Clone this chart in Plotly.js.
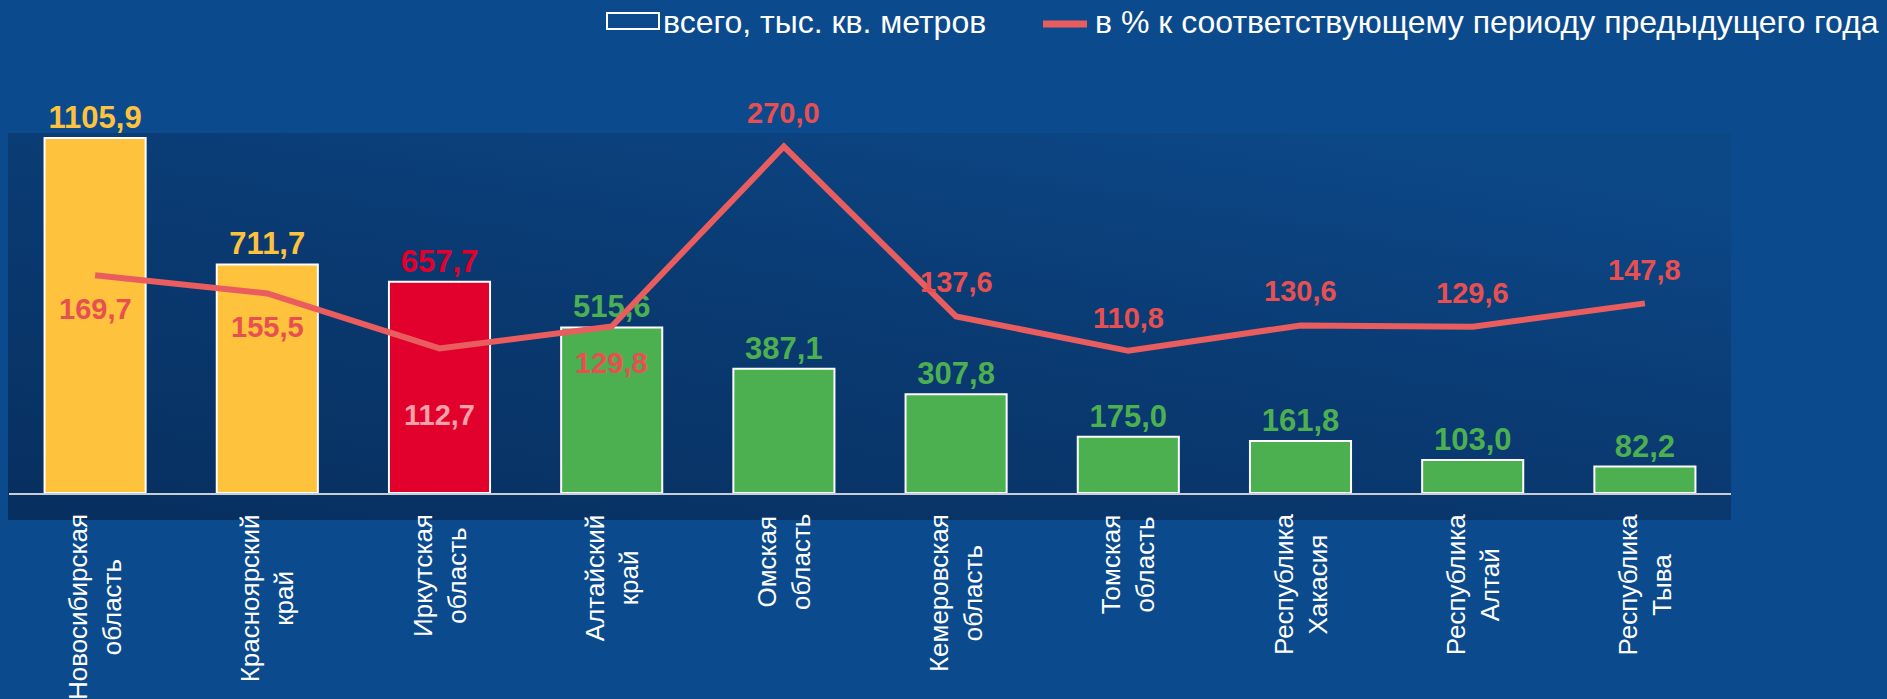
<!DOCTYPE html>
<html>
<head>
<meta charset="utf-8">
<script src="https://cdn.plot.ly/plotly-3.0.1.min.js"></script>
<style>
  html, body { margin: 0; padding: 0; background: #0c4a8e; }
  #chart { width: 1887px; height: 699px; }
</style>
</head>
<body>
<div id="chart"></div>
<script>
// regions (two words each, split onto two lines under the bars)
var regions = ['Новосибирская область', 'Красноярский край', 'Иркутская область', 'Алтайский край',
  'Омская область', 'Кемеровская область', 'Томская область', 'Республика Хакасия',
  'Республика Алтай', 'Республика Тыва'];

// всего, тыс. кв. метров
var totalArea = [1105.9, 711.7, 657.7, 515.6, 387.1, 307.8, 175.0, 161.8, 103.0, 82.2];

// в % к соответствующему периоду предыдущего года
var pctPrev = [169.7, 155.5, 112.7, 129.8, 270.0, 137.6, 110.8, 130.6, 129.6, 147.8];

var legendNames = ['всего, тыс. кв. метров', 'в % к соответствующему периоду предыдущего года'];

var YELLOW = '#ffc23d', RED = '#e2002d', GREEN = '#4caf50', LINE = '#e95d5f';
var barColors = [YELLOW, YELLOW, RED, GREEN, GREEN, GREEN, GREEN, GREEN, GREEN, GREEN];

// label offset (px) of the percent labels from the line points
var pctShift = [-34, -34, -67, -37, 34, 34, 33, 34, 34, 33];
var pctColors = pctPrev.map(function (v, i) { return i === 2 ? '#f6a2a8' : '#e84f50'; });

function fmt(v) { return v.toFixed(1).replace('.', ','); }

var FONT = 'Liberation Sans, Arial, sans-serif';

// plot box in pixels, used to place the hand-made legend
var L = 9, R = 156, T = 135, B = 206, W = 1887, H = 699;
var pw = W - L - R, ph = H - T - B;
function px(x) { return (x - L) / pw; }
function py(y) { return (H - B - y) / ph; }

var bars = {
  type: 'bar',
  x: regions,
  y: totalArea,
  name: legendNames[0],
  marker: { color: barColors, line: { color: '#ffffff', width: 2 } },
  text: totalArea.map(fmt),
  textposition: 'outside',
  textangle: 0,
  constraintext: 'none',
  cliponaxis: false,
  textfont: { family: FONT, size: 31, weight: 'bold', color: barColors },
  hoverinfo: 'x+y'
};

var line = {
  type: 'scatter',
  mode: 'lines',
  x: regions,
  y: pctPrev,
  yaxis: 'y2',
  name: legendNames[1],
  line: { color: LINE, width: 6 },
  cliponaxis: false
};

var annotations = pctPrev.map(function (v, i) {
  return {
    xref: 'x', yref: 'y2', x: regions[i], y: v,
    text: fmt(v), showarrow: false, yshift: pctShift[i],
    font: { family: FONT, size: 29, weight: 'bold', color: pctColors[i] }
  };
});

regions.forEach(function (r) {
  annotations.push({
    xref: 'x', yref: 'paper', x: r, y: 0, yshift: -19,
    text: r.replace(' ', '<br>'), textangle: -90,
    xanchor: 'center', yanchor: 'top', align: 'center', showarrow: false,
    font: { family: FONT, size: 26, color: '#ffffff' }
  });
});

// legend text
annotations.push({
  xref: 'paper', yref: 'paper', x: px(661), y: py(22), xanchor: 'left', yanchor: 'middle',
  text: legendNames[0], showarrow: false, font: { family: FONT, size: 32, color: '#ffffff' }
});
annotations.push({
  xref: 'paper', yref: 'paper', x: px(1093), y: py(22), xanchor: 'left', yanchor: 'middle',
  text: legendNames[1], showarrow: false, font: { family: FONT, size: 32, color: '#ffffff' }
});

var shapes = [
  { type: 'rect', xref: 'paper', yref: 'paper', x0: px(607), x1: px(659), y0: py(29), y1: py(13),
    line: { color: '#ffffff', width: 2 }, fillcolor: '#0c4a8e' },
  { type: 'line', xref: 'paper', yref: 'paper', x0: px(1043), x1: px(1087), y0: py(24), y1: py(24),
    line: { color: LINE, width: 7 } }
];

var grad = 'data:image/svg+xml;utf8,' + encodeURIComponent(
  '<svg xmlns="http://www.w3.org/2000/svg" width="100" height="100" preserveAspectRatio="none">' +
  '<defs><linearGradient id="g" x1="0" y1="1" x2="0.75" y2="0">' +
  '<stop offset="0" stop-color="#072f5f"/><stop offset="0.6" stop-color="#0a3b73"/>' +
  '<stop offset="1" stop-color="#0c4786"/></linearGradient></defs>' +
  '<rect width="100" height="100" fill="url(#g)"/></svg>');

var layout = {
  width: W, height: H,
  margin: { l: L, r: R, t: T, b: B },
  paper_bgcolor: '#0c4a8e',
  plot_bgcolor: 'rgba(0,0,0,0)',
  showlegend: false,
  bargap: 0.413,
  font: { family: FONT, color: '#ffffff' },
  xaxis: {
    type: 'category', range: [-0.5, 9.5],
    showline: true, linecolor: '#c9ced6', linewidth: 2,
    showgrid: false, showticklabels: false, ticks: '', zeroline: false
  },
  yaxis: { range: [0, 1115], visible: false, showgrid: false, zeroline: false },
  yaxis2: { range: [0, 279], overlaying: 'y', side: 'right', visible: false, showgrid: false, zeroline: false },
  images: [{
    source: grad, xref: 'paper', yref: 'paper',
    x: px(8), y: py(133), sizex: px(1731) - px(8), sizey: py(133) - py(520),
    xanchor: 'left', yanchor: 'top', sizing: 'stretch', layer: 'below'
  }],
  shapes: shapes,
  annotations: annotations
};

Plotly.newPlot('chart', [bars, line], layout, { displayModeBar: false, staticPlot: true });
</script>
</body>
</html>
